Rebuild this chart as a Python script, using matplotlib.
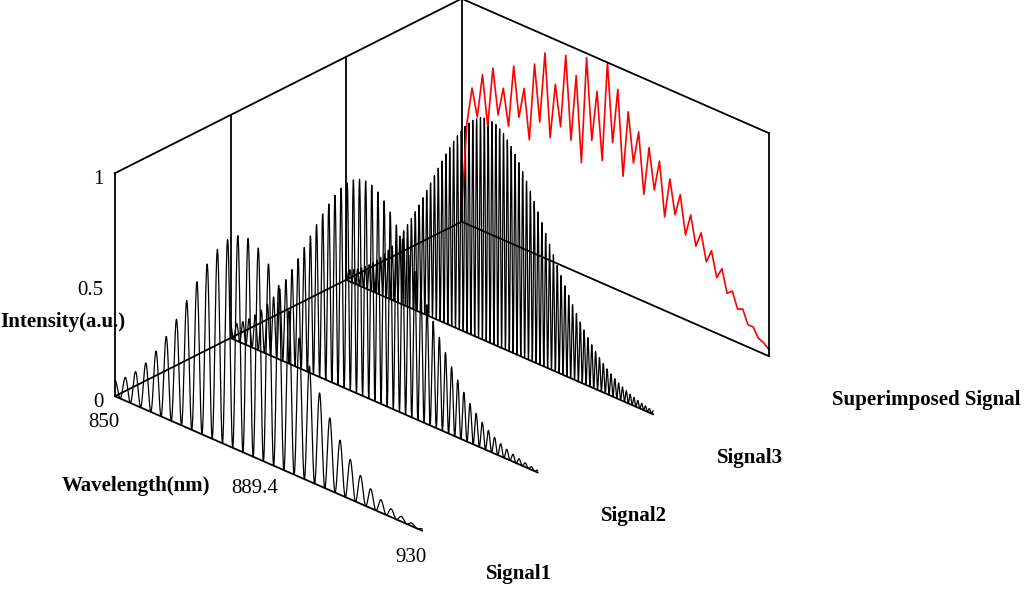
import numpy as np
import matplotlib
matplotlib.use("Agg")
import matplotlib.pyplot as plt

plt.rcParams["font.family"] = ["Liberation Serif", "DejaVu Serif"]

# signal rows (depth axis)
signal_names = ["Signal1", "Signal2", "Signal3", "Superimposed Signal"]
wl_ticks = [850, 889.4, 930]
z_ticks = [0, 0.5, 1]

# read-off envelope of each interference signal: centre, width, peak, fringe count
env_center = [884.0, 885.0, 887.0]
env_width = [21.0, 21.0, 21.0]
env_peak = [0.97, 0.97, 1.0]
fringe_count = [30, 50, 80]

# superimposed (red) trace, read from the back wall, 850 -> 930 nm
red_vals = [0.05, 0.45, 0.62, 0.50, 0.70, 0.48, 0.75, 0.55, 0.68, 0.52, 0.80,
            0.58, 0.72, 0.50, 0.85, 0.60, 0.92, 0.55, 0.80, 0.62, 0.95, 0.58,
            0.88, 0.50, 0.98, 0.62, 0.85, 0.55, 1.00, 0.65, 0.90, 0.52, 0.82,
            0.60, 0.75, 0.48, 0.70, 0.52, 0.66, 0.42, 0.60, 0.45, 0.55, 0.38,
            0.48, 0.35, 0.42, 0.30, 0.36, 0.25, 0.30, 0.20, 0.22, 0.15, 0.16,
            0.10, 0.10, 0.06, 0.05, 0.03]

fig = plt.figure(figsize=(10.25, 6.01), dpi=100)
ax = fig.add_axes([-0.18, -0.15, 1.2, 1.4], projection="3d")
ax.set_axis_off()
ax.set_proj_type("ortho")
ax.view_init(elev=28, azim=-47)
ax.set_box_aspect((0.95, 1.15, 0.6), zoom=0.82)

x = np.linspace(850, 930, 3000)
for i in range(3):
    env = env_peak[i] * np.exp(-((x - env_center[i]) / env_width[i]) ** 2)
    z = env * 0.5 * (1 + np.cos(2 * np.pi * fringe_count[i] * (x - 850) / 80))
    ax.plot(x, np.full_like(x, i), z, color="black", lw=0.9)

xr = np.linspace(850, 930, len(red_vals))
ax.plot(xr, np.full_like(xr, 3), red_vals, color="red", lw=1.2)

k = dict(color="black", lw=1.3)
top = 1.0
for i in range(4):
    ax.plot([850, 930], [i, i], [0, 0], **k)
    ax.plot([850, 850], [i, i], [0, top], **k)
ax.plot([850, 850], [0, 3], [0, 0], **k)
ax.plot([850, 850], [0, 3], [top, top], **k)
ax.plot([850, 930], [3, 3], [top, top], **k)
ax.plot([930, 930], [3, 3], [0, top], **k)

for zt in z_ticks:
    ax.text(850, -0.1, zt, f"{zt:g}", fontsize=15, ha="right", va="center")
ax.text(850, -0.45, 0.45, "Intensity(a.u.)", fontsize=15, fontweight="bold",
        rotation=90, ha="center", va="center")
for xt in wl_ticks:
    ax.text(xt, -0.1, -0.05, f"{xt:g}", fontsize=15, ha="center", va="top")
ax.text(872, -0.55, -0.05, "Wavelength(nm)", fontsize=15, fontweight="bold",
        ha="center", va="top")
for i, name in enumerate(signal_names):
    ax.text(945, i + 0.05, -0.05, name, fontsize=15, fontweight="bold",
            ha="left", va="top")

ax.set_xlim(850, 930)
ax.set_ylim(0, 3)
ax.set_zlim(0, top * 1.05)
fig.savefig("out.png", dpi=100)
